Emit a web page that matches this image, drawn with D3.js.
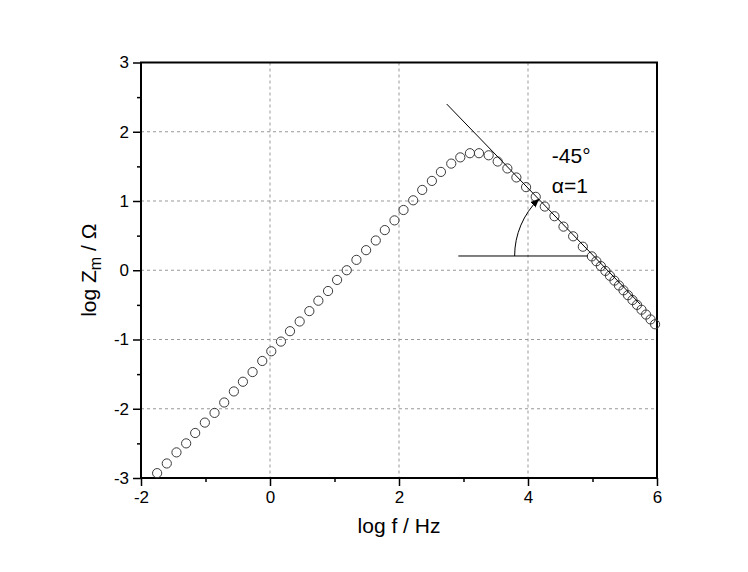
<!DOCTYPE html>
<html>
<head>
<meta charset="utf-8">
<script src="https://cdn.jsdelivr.net/npm/d3@7"></script>
<style>
body { margin: 0; background: #fff; }
text { font-family: "Liberation Sans", Arial, sans-serif; fill: #000; }
</style>
</head>
<body>
<svg id="chart" width="748" height="572"></svg>
<script>
// measured points, log f (Hz) and log Zm (ohm)
var logF = [-1.75, -1.60, -1.45, -1.30, -1.16, -1.01, -0.86, -0.71, -0.56, -0.42,
	-0.27, -0.12, 0.02, 0.17, 0.31, 0.46, 0.61, 0.75, 0.90, 1.04,
	1.19, 1.34, 1.49, 1.64, 1.78, 1.93, 2.07, 2.22, 2.36, 2.51,
	2.65, 2.81, 2.95, 3.10, 3.24, 3.39, 3.53, 3.68, 3.82, 3.97,
	4.12, 4.26, 4.41, 4.55, 4.70, 4.85, 4.99,
	5.06, 5.13, 5.20, 5.27, 5.34, 5.41, 5.48, 5.55, 5.62, 5.69, 5.76, 5.83, 5.90, 5.97];
var logZ = [-2.93, -2.79, -2.63, -2.50, -2.35, -2.20, -2.06, -1.91, -1.75, -1.61,
	-1.47, -1.31, -1.17, -1.03, -0.88, -0.74, -0.59, -0.44, -0.30, -0.14,
	0.00, 0.15, 0.29, 0.43, 0.58, 0.72, 0.87, 1.01, 1.16, 1.29,
	1.42, 1.54, 1.63, 1.69, 1.69, 1.66, 1.57, 1.47, 1.34, 1.20,
	1.06, 0.92, 0.78, 0.63, 0.49, 0.34, 0.20,
	0.13, 0.06, -0.01, -0.08, -0.15, -0.22, -0.29, -0.36, -0.43, -0.50, -0.57, -0.64, -0.71, -0.78];

var xMajor = [-2, 0, 2, 4, 6],
	xMinor = [-1, 1, 3, 5],
	yMajor = [-3, -2, -1, 0, 1, 2, 3],
	yMinor = [-2.5, -1.5, -0.5, 0.5, 1.5, 2.5],
	xGrid = [0, 2, 4],
	yGrid = [-2, -1, 0, 1, 2];

// slope line and the horizontal reference line
var fitLine = [[2.74, 2.40], [5.74, -0.49]];
var baseLine = [[2.92, 0.206], [4.93, 0.206]];
var angleText = ["-45°", "α=1"];

var margin = {top: 62.5, left: 141, right: 91, bottom: 94},
	width = 748 - margin.left - margin.right,
	height = 572 - margin.top - margin.bottom;

var svg = d3.select("#chart");
var g = svg.append("g").attr("transform", "translate(" + margin.left + "," + margin.top + ")");

var x = d3.scaleLinear().domain([-2, 6]).range([0, width]);
var y = d3.scaleLinear().domain([-3, 3]).range([height, 0]);

//grid
g.selectAll(".vgrid").data(xGrid).enter().append("line")
	.attr("x1", d => x(d)).attr("x2", d => x(d))
	.attr("y1", 0).attr("y2", height)
	.style("stroke", "#999").style("stroke-width", 1).style("stroke-dasharray", "3,3");
g.selectAll(".hgrid").data(yGrid).enter().append("line")
	.attr("x1", 0).attr("x2", width)
	.attr("y1", d => y(d)).attr("y2", d => y(d))
	.style("stroke", "#999").style("stroke-width", 1).style("stroke-dasharray", "3,3");

//axes
var fmt = d => String(d);
g.append("g").attr("transform", "translate(0," + height + ")")
	.call(d3.axisBottom(x).tickValues(xMajor).tickSize(8).tickPadding(5).tickFormat(fmt));
g.append("g").attr("transform", "translate(0," + height + ")")
	.call(d3.axisBottom(x).tickValues(xMinor).tickSize(4).tickFormat(""));
g.append("g")
	.call(d3.axisLeft(y).tickValues(yMajor).tickSize(8).tickPadding(4).tickFormat(fmt));
g.append("g")
	.call(d3.axisLeft(y).tickValues(yMinor).tickSize(4).tickFormat(""));

g.selectAll(".domain").remove();
g.selectAll(".tick line").style("stroke", "#000").style("stroke-width", 1.5);
g.selectAll(".tick text")
	.style("font-family", '"Liberation Sans", Arial, sans-serif')
	.style("font-size", "17px").style("fill", "#000");

//frame
g.append("rect")
	.attr("x", 0).attr("y", 0).attr("width", width).attr("height", height)
	.style("fill", "none").style("stroke", "#000").style("stroke-width", 2);

//data
g.selectAll(".pt").data(logF).enter().append("circle")
	.attr("cx", d => x(d))
	.attr("cy", (d, i) => y(logZ[i]))
	.attr("r", 4.6)
	.style("fill", "none").style("stroke", "#3a3a3a").style("stroke-width", 1);

//annotation lines
var line = d3.line().x(d => x(d[0])).y(d => y(d[1]));
g.append("path").attr("d", line(fitLine))
	.style("fill", "none").style("stroke", "#000").style("stroke-width", 1);
g.append("path").attr("d", line(baseLine))
	.style("fill", "none").style("stroke", "#000").style("stroke-width", 1);

// arc from the horizontal line up to the slope line
var p1 = [x(fitLine[0][0]), y(fitLine[0][1])], p2 = [x(fitLine[1][0]), y(fitLine[1][1])];
var cy0 = y(baseLine[0][1]);
var t = (cy0 - p1[1]) / (p2[1] - p1[1]);
var cx0 = p1[0] + t * (p2[0] - p1[0]);
var len = Math.hypot(p1[0] - p2[0], p1[1] - p2[1]);
var ux = (p1[0] - p2[0]) / len, uy = (p1[1] - p2[1]) / len;
var r = 79;

svg.append("defs").append("marker")
	.attr("id", "arrow")
	.attr("viewBox", "0 0 10 10")
	.attr("refX", 9).attr("refY", 5)
	.attr("markerWidth", 9).attr("markerHeight", 9)
	.attr("markerUnits", "userSpaceOnUse")
	.attr("orient", "auto")
	.append("path").attr("d", "M0,1 L10,5 L0,9 Z").style("fill", "#000");

g.append("path")
	.attr("d", "M" + (cx0 - r) + "," + cy0 + " A" + r + "," + r + " 0 0 1 " + (cx0 + r * ux) + "," + (cy0 + r * uy))
	.attr("marker-end", "url(#arrow)")
	.style("fill", "none").style("stroke", "#000").style("stroke-width", 1);

g.append("text").attr("x", x(4.37)).attr("y", y(1.55))
	.text(angleText[0]).style("font-size", "21px");
g.append("text").attr("x", x(4.37)).attr("y", y(1.12))
	.text(angleText[1]).style("font-size", "21px");

//titles
g.append("text")
	.attr("x", width / 2).attr("y", height + 55)
	.attr("text-anchor", "middle")
	.text("log f / Hz")
	.style("font-size", "21px");

var yt = g.append("text")
	.attr("transform", "translate(-45," + (height / 2) + ") rotate(-90)")
	.attr("text-anchor", "middle")
	.style("font-size", "21px");
yt.append("tspan").text("log Z");
yt.append("tspan").attr("dy", 5).style("font-size", "16px").text("m");
yt.append("tspan").attr("dy", -5).text(" / Ω");
</script>
</body>
</html>
